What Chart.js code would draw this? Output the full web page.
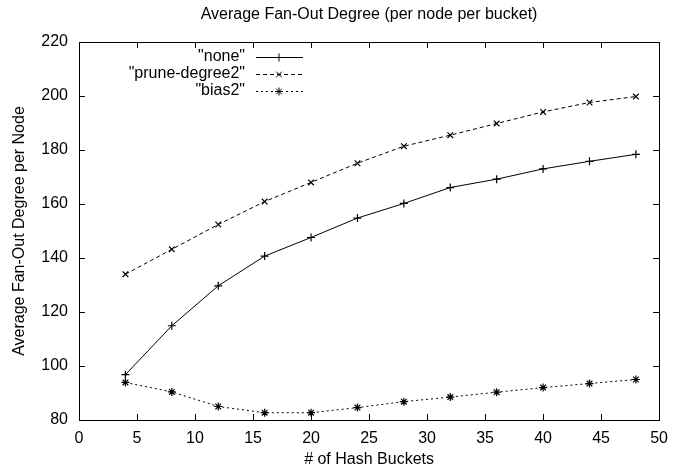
<!DOCTYPE html>
<html>
<head>
<meta charset="utf-8">
<script src="https://cdn.jsdelivr.net/npm/chart.js@4.4.0/dist/chart.umd.min.js"></script>
<style>
  html, body { margin: 0; padding: 0; background: #fff; }
  #wrap { width: 677px; height: 469px; }
</style>
</head>
<body>
<div id="wrap"><canvas id="chart" width="677" height="469"></canvas></div>
<script>
// data
var buckets = [4, 8, 12, 16, 20, 24, 28, 32, 36, 40, 44, 48];
var noneVals = [96.8, 114.9, 129.7, 140.7, 147.6, 154.8, 160.2, 166.1, 169.2, 173.0, 175.8, 178.4];
var pruneVals = [134.0, 143.2, 152.4, 160.9, 168.0, 175.1, 181.4, 185.5, 189.8, 194.1, 197.6, 199.8];
var biasVals = [93.9, 90.4, 85.0, 82.7, 82.7, 84.6, 86.8, 88.5, 90.3, 92.0, 93.5, 95.0];
var seriesNames = ['"none"', '"prune-degree2"', '"bias2"'];
var chartTitle = 'Average Fan-Out Degree (per node per bucket)';
var xTitle = '# of Hash Buckets';
var yTitle = 'Average Fan-Out Degree per Node';

var FONT = 'Liberation Sans, Arial, Helvetica, sans-serif';
var FS = 16;

function pts(ys) {
  return buckets.map(function(x, i) { return {x: x, y: ys[i]}; });
}

var datasets = [
  {label: seriesNames[0], data: pts(noneVals), pointStyle: 'cross', borderDash: []},
  {label: seriesNames[1], data: pts(pruneVals), pointStyle: 'crossRot', borderDash: [4, 3]},
  {label: seriesNames[2], data: pts(biasVals), pointStyle: 'star', borderDash: [2, 3]}
].map(function(d) {
  d.borderColor = '#000';
  d.backgroundColor = '#000';
  d.borderWidth = 1;
  d.pointRadius = 4;
  d.pointHoverRadius = 4;
  d.pointBorderWidth = 1.2;
  d.tension = 0;
  return d;
});

// gnuplot style frame, inward ticks on every side, title and key
var gnuplotLook = {
  id: 'gnuplotLook',
  afterDraw: function(chart) {
    var ctx = chart.ctx, a = chart.chartArea;
    var xs = chart.scales.x, ys = chart.scales.y;
    ctx.save();
    ctx.strokeStyle = '#000';
    ctx.lineWidth = 1;
    ctx.setLineDash([]);
    ctx.strokeRect(Math.round(a.left) + 0.5, Math.round(a.top) + 0.5,
      Math.round(a.right - a.left), Math.round(a.bottom - a.top));
    ctx.beginPath();
    xs.ticks.forEach(function(t) {
      var px = Math.round(xs.getPixelForValue(t.value)) + 0.5;
      ctx.moveTo(px, a.bottom); ctx.lineTo(px, a.bottom - 6);
      ctx.moveTo(px, a.top); ctx.lineTo(px, a.top + 6);
    });
    ys.ticks.forEach(function(t) {
      var py = Math.round(ys.getPixelForValue(t.value)) + 0.5;
      ctx.moveTo(a.left, py); ctx.lineTo(a.left + 6, py);
      ctx.moveTo(a.right, py); ctx.lineTo(a.right - 6, py);
    });
    ctx.stroke();

    ctx.fillStyle = '#000';
    ctx.font = FS + 'px ' + FONT;
    ctx.textAlign = 'center';
    ctx.textBaseline = 'middle';
    ctx.fillText(chartTitle, (a.left + a.right) / 2, 15);

    // key
    ctx.textAlign = 'right';
    chart.data.datasets.forEach(function(ds, i) {
      var y = 57 + i * 17;
      ctx.fillStyle = '#000';
      ctx.fillText(ds.label, 245, y);
      ctx.beginPath();
      ctx.setLineDash(ds.borderDash);
      ctx.moveTo(256, y + 0.5);
      ctx.lineTo(303, y + 0.5);
      ctx.stroke();
      ctx.setLineDash([]);
      Chart.helpers.drawPoint(ctx, {pointStyle: ds.pointStyle, radius: 4, borderWidth: 1.2}, 279, y + 0.5);
    });
    ctx.restore();
  }
};

new Chart(document.getElementById('chart'), {
  type: 'line',
  data: {datasets: datasets},
  options: {
    responsive: false,
    animation: false,
    layout: {padding: {top: 42, right: 15, left: 0, bottom: 0}},
    plugins: {legend: {display: false}, title: {display: false}, tooltip: {enabled: false}},
    scales: {
      x: {
        type: 'linear', min: 0, max: 50,
        grid: {display: false, drawTicks: false},
        border: {display: false},
        ticks: {stepSize: 5, color: '#000', padding: 9, maxRotation: 0, font: {family: FONT, size: FS}},
        title: {display: true, text: xTitle, color: '#000', padding: {top: 0, bottom: 0}, font: {family: FONT, size: FS}},
        afterFit: function(s) { s.height = 49; }
      },
      y: {
        type: 'linear', min: 80, max: 220,
        grid: {display: false, drawTicks: false},
        border: {display: false},
        ticks: {stepSize: 20, color: '#000', padding: 11, font: {family: FONT, size: FS}},
        title: {display: true, text: yTitle, color: '#000', padding: {top: 10, bottom: 0}, font: {family: FONT, size: FS}},
        afterFit: function(s) { s.width = 79; }
      }
    }
  },
  plugins: [gnuplotLook]
});
</script>
</body>
</html>
